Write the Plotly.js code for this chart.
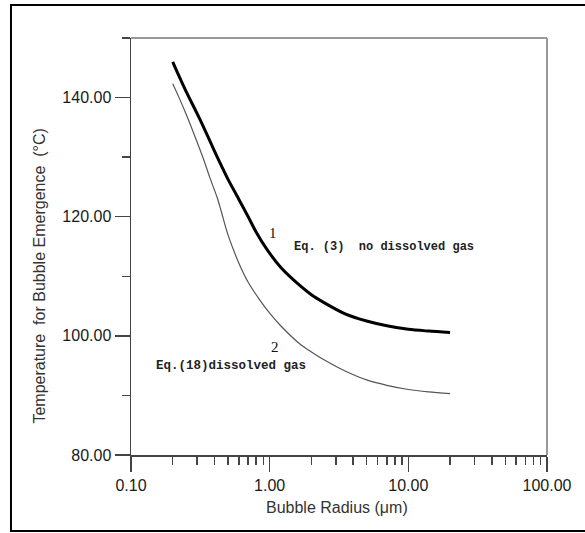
<!DOCTYPE html>
<html>
<head>
<meta charset="utf-8">
<script src="https://cdn.plot.ly/plotly-3.0.1.min.js"></script>
<style>html,body{margin:0;padding:0;background:#fff;}#chart{width:585px;height:533px;}</style>
</head>
<body>
<div id="chart"></div>
<script>
// Curve 1: Eq. (3), no dissolved gas
const radius1 = [0.2, 0.22, 0.25, 0.3, 0.35, 0.4, 0.45, 0.5, 0.6, 0.7, 0.8, 0.95, 1.2, 1.5, 2.0, 2.5, 3.5, 5, 7, 10, 14, 20];
const temp1   = [146, 143.8, 141, 137.3, 134, 131, 128.5, 126.3, 122.9, 120.0, 117.4, 114.6, 111.5, 109.3, 106.9, 105.5, 103.7, 102.5, 101.7, 101.1, 100.8, 100.55];
// Curve 2: Eq. (18), dissolved gas
const radius2 = [0.2, 0.22, 0.25, 0.3, 0.333, 0.37, 0.42, 0.45, 0.5, 0.6, 0.7, 0.85, 1.0, 1.2, 1.66, 2.0, 2.5, 3.5, 5, 7, 10, 14, 20];
const temp2   = [142.3, 140.2, 137.2, 132.5, 129.7, 126.6, 123.1, 120.7, 117, 112.2, 109.0, 106.0, 103.8, 101.7, 98.6, 97.3, 95.9, 94.1, 92.6, 91.7, 91.0, 90.6, 90.3];

const xTickVals = [0.1, 1, 10, 100];
const xTickText = ["0.10", "1.00", "10.00", "100.00"];
const yTickVals = [80, 100, 120, 140];
const yTickText = ["80.00", "100.00", "120.00", "140.00"];

const xTitle = "Bubble Radius (μm)";
const yTitle = "Temperature  for Bubble Emergence  (°C)";
const label1 = "1";
const text1 = "Eq. (3)  no dissolved gas";
const label2 = "2";
const text2 = "Eq.(18)dissolved gas";

const traces = [
  {x: radius1, y: temp1, type: 'scatter', mode: 'lines', line: {color: '#000', width: 3, shape: 'spline', smoothing: 0.8}, hoverinfo: 'skip'},
  {x: radius2, y: temp2, type: 'scatter', mode: 'lines', line: {color: '#555', width: 1.2, shape: 'spline', smoothing: 0.8}, hoverinfo: 'skip'}
];

const axFont = {family: 'Liberation Sans, Arial, sans-serif', size: 16, color: '#1a1a1a'};
const layout = {
  width: 585, height: 533,
  margin: {l: 131, r: 38, t: 38, b: 78},
  paper_bgcolor: '#fff', plot_bgcolor: '#fff',
  showlegend: false,
  xaxis: {
    type: 'log', range: [-1, 2],
    tickvals: xTickVals, ticktext: xTickText,
    ticks: 'outside', ticklen: 15, tickwidth: 1.5, tickcolor: '#444',
    showline: true, linecolor: '#444', linewidth: 1.5,
    showgrid: false, zeroline: false,
    tickfont: axFont,
    minor: {dtick: 'D1', ticks: 'outside', ticklen: 8, tickwidth: 1.5, tickcolor: '#444', showgrid: false}
  },
  yaxis: {
    range: [80, 150],
    tickvals: yTickVals, ticktext: yTickText,
    ticks: 'outside', ticklen: 15, tickwidth: 1.5, tickcolor: '#444',
    showline: true, linecolor: '#444', linewidth: 1.5,
    showgrid: false, zeroline: false,
    tickfont: axFont,
    minor: {tick0: 80, dtick: 10, ticks: 'outside', ticklen: 8, tickwidth: 1.5, tickcolor: '#444', showgrid: false}
  },
  shapes: [
    {type: 'line', xref: 'paper', yref: 'paper', x0: 0, x1: 1, y0: 1, y1: 1, line: {color: '#999', width: 2}},
    {type: 'line', xref: 'paper', yref: 'paper', x0: 1, x1: 1, y0: 0, y1: 1, line: {color: '#999', width: 2}},
    {type: 'rect', xref: 'paper', yref: 'paper', x0: -0.2885, x1: 1.103, y0: -0.1823, y1: 1.079, line: {color: '#000', width: 2}, layer: 'below'}
  ],
  annotations: [
    {xref: 'paper', yref: 'paper', x: 0.494, y: -0.127, text: xTitle, showarrow: false, xanchor: 'center', yanchor: 'middle',
     font: {family: 'Liberation Sans, Arial, sans-serif', size: 16, color: '#333'}},
    {xref: 'paper', yref: 'paper', x: -0.219, y: 0.43, text: yTitle, showarrow: false, textangle: -90, xanchor: 'center', yanchor: 'middle',
     font: {family: 'Liberation Sans, Arial, sans-serif', size: 16, color: '#333'}},
    {xref: 'paper', yref: 'paper', x: 0.341, y: 0.532, text: label1, showarrow: false, xanchor: 'center', yanchor: 'middle',
     font: {family: 'Liberation Serif, serif', size: 15, color: '#111'}},
    {xref: 'paper', yref: 'paper', x: 0.387, y: 0.499, text: '<b>' + text1 + '</b>', showarrow: false, xanchor: 'left', yanchor: 'middle',
     font: {family: 'Liberation Mono, monospace', size: 12, color: '#222'}},
    {xref: 'paper', yref: 'paper', x: 0.346, y: 0.259, text: label2, showarrow: false, xanchor: 'center', yanchor: 'middle',
     font: {family: 'Liberation Serif, serif', size: 15, color: '#111'}},
    {xref: 'paper', yref: 'paper', x: 0.0553, y: 0.2134, text: '<b>' + text2 + '</b>', showarrow: false, xanchor: 'left', yanchor: 'middle',
     font: {family: 'Liberation Mono, monospace', size: 12.5, color: '#222'}}
  ]
};

Plotly.newPlot('chart', traces, layout, {displayModeBar: false, staticPlot: true});
</script>
</body>
</html>
